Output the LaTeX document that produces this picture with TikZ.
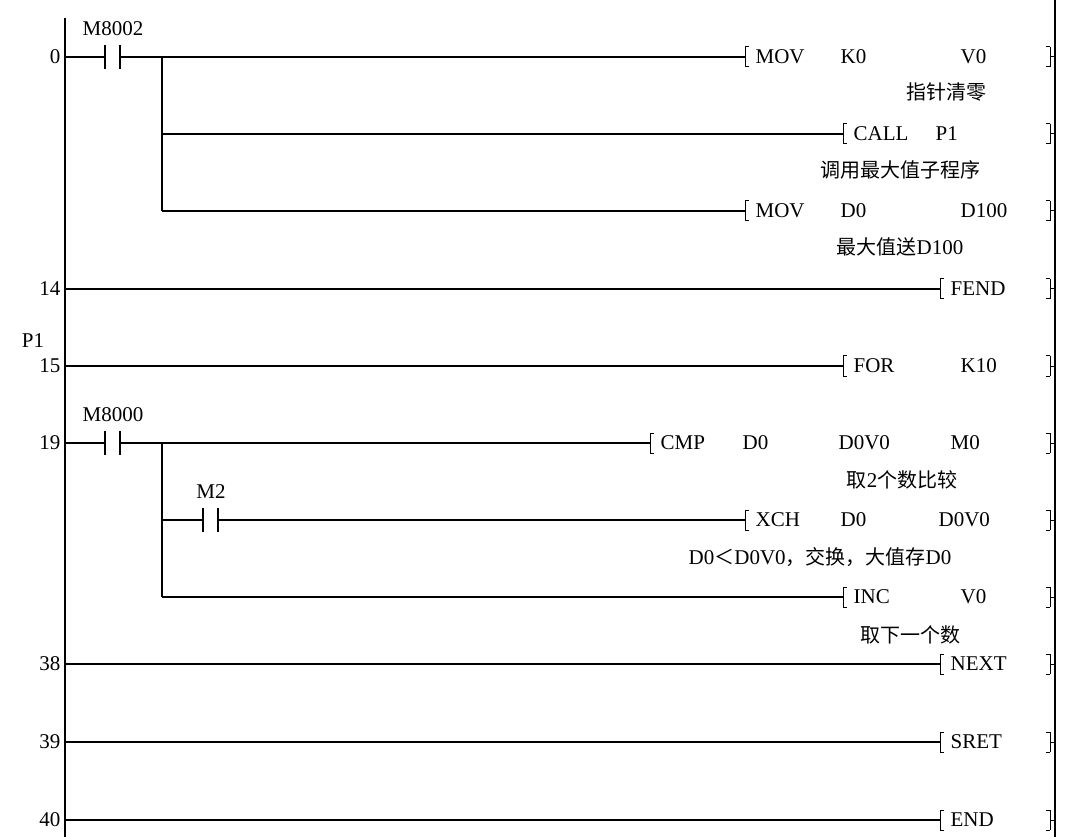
\documentclass[tikz,border=0pt]{standalone}
\usepackage{fontspec}
\setmainfont{Liberation Serif}
\newfontfamily\cjk{Noto Sans CJK SC}
\begin{document}
\begin{tikzpicture}[x=1pt,y=-1pt,line width=1.3pt,
  txt/.style={inner sep=0pt,font=\fontsize{21}{21}\selectfont},
  num/.style={txt,anchor=east},
  cmt/.style={inner sep=0pt,font=\cjk\fontsize{20}{20}\selectfont},
  lb/.style={line width=1pt}]
\useasboundingbox (0,0) rectangle (1080,837);
\newcommand\rl[1]{{\rmfamily\fontsize{21}{21}\selectfont #1}}
% rails
\coordinate (L0) at (65,18); \coordinate (L1) at (65,837);
\coordinate (R0) at (1055,0); \coordinate (R1) at (1055,837);
\draw (L0)--(L1); \draw (R0)--(R1);
\newcommand\lbr[2]{\draw[lb] (#1,#2-10)--(#1,#2+10) (#1,#2-10)--(#1+4,#2-10) (#1,#2+10)--(#1+4,#2+10);}
\newcommand\rbr[1]{\draw[lb] (1050,#1-10)--(1050,#1+10) (1050,#1-10)--(1046,#1-10) (1050,#1+10)--(1046,#1+10) (1050,#1)--(1055,#1);}
\newcommand\contact[3]{\draw (#1-1,#2-12)--(#1-1,#2+12) (#1+14,#2-12)--(#1+14,#2+12);
  \node[txt] at (#1+7,#2-28) {#3};}
% step numbers
\node[num] (n0) at (61,57) {0};
\node[num] (n14) at (61,289) {14};
\node[txt] (p1) at (33,341) {P1};
\node[num] (n15) at (61,366) {15};
\node[num] (n19) at (61,443) {19};
\node[num] (n38) at (61,664) {38};
\node[num] (n39) at (61,742) {39};
\node[num] (n40) at (61,820) {40};
% rung 0
\contact{106}{57}{M8002}
\coordinate (b0) at (162,57); \coordinate (b1) at (162,134); \coordinate (b2) at (162,211);
\draw (65,57)--(105,57) (120,57)--(745,57);
\draw (b0)--(b2); \draw (b1)--(843,134); \draw (b2)--(745,211);
\lbr{745}{57}\rbr{57}
\node[txt,anchor=west] at (755,57) {MOV}; \node[txt,anchor=west] at (840,57) {K0}; \node[txt,anchor=west] at (960,57) {V0};
\node[cmt] at (946,92) {指针清零};
\lbr{843}{134}\rbr{134}
\node[txt,anchor=west] at (853,134) {CALL}; \node[txt,anchor=west] at (935,134) {P1};
\node[cmt] at (900,170) {调用最大值子程序};
\lbr{745}{211}\rbr{211}
\node[txt,anchor=west] at (755,211) {MOV}; \node[txt,anchor=west] at (840,211) {D0}; \node[txt,anchor=west] at (960,211) {D100};
\node[cmt] at (900,247) {最大值送\rl{D100}};
% FEND
\draw (65,289)--(940,289); \lbr{940}{289}\rbr{289}
\node[txt,anchor=west] at (950,289) {FEND};
% FOR
\draw (65,366)--(843,366); \lbr{843}{366}\rbr{366}
\node[txt,anchor=west] at (853,366) {FOR}; \node[txt,anchor=west] at (960,366) {K10};
% rung 19
\contact{106}{443}{M8000}
\draw (65,443)--(105,443) (120,443)--(650,443);
\draw (162,443)--(162,597);
\lbr{650}{443}\rbr{443}
\node[txt,anchor=west] at (660,443) {CMP}; \node[txt,anchor=west] at (742,443) {D0};
\node[txt,anchor=west] at (838,443) {D0V0}; \node[txt,anchor=west] at (950,443) {M0};
\node[cmt] at (902,480) {取\rl{2}个数比较};
\contact{204}{520}{M2}
\draw (162,520)--(203,520) (218,520)--(745,520);
\lbr{745}{520}\rbr{520}
\node[txt,anchor=west] at (755,520) {XCH}; \node[txt,anchor=west] at (840,520) {D0}; \node[txt,anchor=west] at (938,520) {D0V0};
\node[cmt] at (820,557) {\rl{D0}＜\rl{D0V0}，交换，大值存\rl{D0}};
\draw (162,597)--(843,597); \lbr{843}{597}\rbr{597}
\node[txt,anchor=west] at (853,597) {INC}; \node[txt,anchor=west] at (960,597) {V0};
\node[cmt] at (910,635) {取下一个数};
% NEXT SRET END
\draw (65,664)--(940,664); \lbr{940}{664}\rbr{664}
\node[txt,anchor=west] at (950,664) {NEXT};
\draw (65,742)--(940,742); \lbr{940}{742}\rbr{742}
\node[txt,anchor=west] at (950,742) {SRET};
\draw (65,820)--(940,820); \lbr{940}{820}\rbr{820}
\node[txt,anchor=west] at (950,820) {END};
\end{tikzpicture}
\end{document}
